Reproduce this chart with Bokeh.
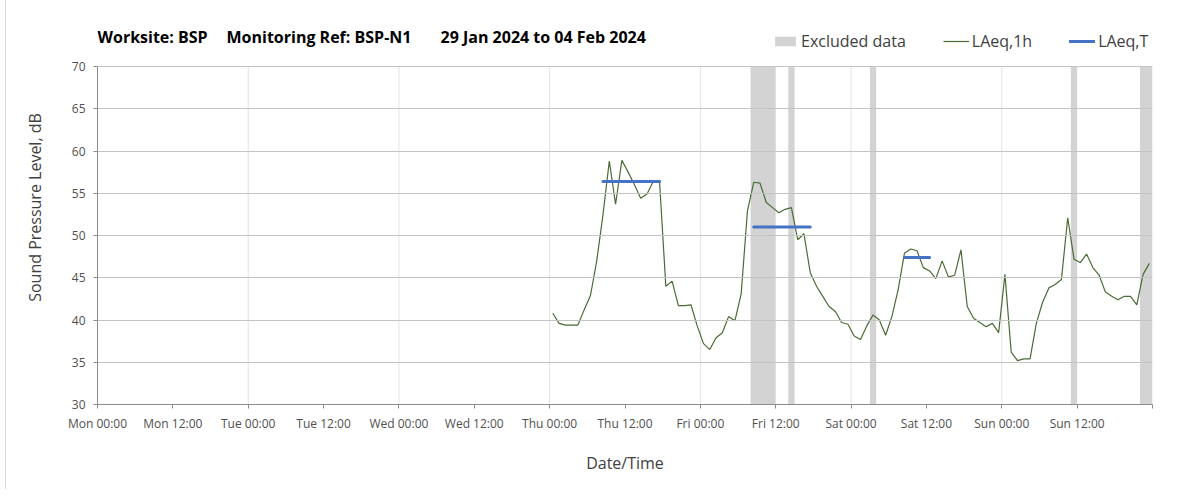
import pandas as pd
from bokeh.plotting import figure
from bokeh.models import Range1d, FixedTicker, Label, Legend, LegendItem, ColumnDataSource
from bokeh.embed import file_html
from bokeh.resources import INLINE

# ---------------- data ----------------
week_start = "2024-01-29 00:00"
week_end = "2024-02-05 00:00"
first_reading = "2024-02-01 00:30"

laeq_1h = [
    40.8, 39.6, 39.4, 39.4, 39.4, 41.2, 42.9, 47.0, 52.5, 58.8, 53.7, 58.9,
    57.5, 56.0, 54.4, 54.9, 56.4, 56.4, 44.0, 44.6, 41.7, 41.7, 41.8, 39.3,
    37.2, 36.5, 37.9, 38.5, 40.4, 39.9, 43.1, 52.9, 56.3, 56.2, 53.9, 53.3,
    52.7, 53.1, 53.3, 49.5, 50.2, 45.6, 44.0, 42.8, 41.6, 41.0, 39.7, 39.5,
    38.1, 37.7, 39.3, 40.6, 40.0, 38.2, 40.4, 43.6, 47.9, 48.4, 48.2, 46.2,
    45.8, 44.9, 47.0, 45.1, 45.3, 48.3, 41.6, 40.2, 39.7, 39.2, 39.6, 38.5,
    45.4, 36.2, 35.2, 35.4, 35.4, 39.6, 42.1, 43.8, 44.2, 44.8, 52.1, 47.2,
    46.8, 47.8, 46.2, 45.3, 43.3, 42.8, 42.4, 42.8, 42.8, 41.8, 45.4, 46.7,
]

excluded_start = ["2024-02-02 08:00", "2024-02-02 14:00", "2024-02-03 03:00",
                  "2024-02-04 11:00", "2024-02-04 22:00"]
excluded_end = ["2024-02-02 12:00", "2024-02-02 15:00", "2024-02-03 04:00",
                "2024-02-04 12:00", "2024-02-05 00:00"]

laeq_t_start = ["2024-02-01 08:30", "2024-02-02 08:30", "2024-02-03 08:30"]
laeq_t_end = ["2024-02-01 17:30", "2024-02-02 17:30", "2024-02-03 12:30"]
laeq_t_value = [56.4, 51.0, 47.4]

x_tick_hours = [0, 12, 24, 36, 48, 60, 72, 84, 96, 108, 120, 132, 144, 156, 168]
x_tick_labels = ["Mon 00:00", "Mon 12:00", "Tue 00:00", "Tue 12:00", "Wed 00:00",
                 "Wed 12:00", "Thu 00:00", "Thu 12:00", "Fri 00:00", "Fri 12:00",
                 "Sat 00:00", "Sat 12:00", "Sun 00:00", "Sun 12:00", ""]
y_ticks = [30, 35, 40, 45, 50, 55, 60, 65, 70]

title_parts = ["Worksite: BSP", "Monitoring Ref: BSP-N1", "29 Jan 2024 to 04 Feb 2024"]

# ---------------- helpers ----------------
t0 = pd.Timestamp(week_start)


def hours(ts):
    return (pd.Timestamp(ts) - t0) / pd.Timedelta(hours=1)


times = pd.date_range(first_reading, periods=len(laeq_1h), freq="h")
x_1h = [hours(t) for t in times]
y_lo, y_hi = y_ticks[0], y_ticks[-1]
x_end = hours(week_end)

src_1h = ColumnDataSource(dict(x=x_1h, y=laeq_1h))
src_ex = ColumnDataSource(dict(left=[hours(s) for s in excluded_start],
                               right=[hours(e) for e in excluded_end]))
src_t = ColumnDataSource(dict(x0=[hours(s) for s in laeq_t_start],
                              x1=[hours(e) for e in laeq_t_end],
                              y=laeq_t_value))
day_lines = x_tick_hours[2:-1:2]
src_vgrid = ColumnDataSource(dict(x=day_lines, y0=[y_lo] * len(day_lines),
                                  y1=[y_hi] * len(day_lines)))

FONT = "Open Sans"

# frame: 10..404 px tall -> upper headroom above 70 holds title & legend
FRAME_TOP, FRAME_BOTTOM = 10, 404
PX_PER_DB = 338 / 40.0
y_top = y_hi + (66 - FRAME_TOP) / PX_PER_DB

p = figure(width=1189, height=489, output_backend="svg", toolbar_location=None,
           x_range=Range1d(0, x_end), y_range=Range1d(y_lo, y_top),
           min_border_left=91, min_border_right=43, min_border_top=FRAME_TOP,
           min_border_bottom=489 - FRAME_BOTTOM, background_fill_color="white",
           border_fill_color="white")
p.styles = {"margin-left": "5px", "border-left": "1px solid #d9d9d9"}
p.outline_line_color = None
p.xgrid.visible = False

# excluded bands
r_ex = p.quad(left="left", right="right", bottom=y_lo, top=y_hi, source=src_ex,
              fill_color="#d3d3d3", line_color=None, level="underlay")

# vertical day grid lines (limited to the axis extent)
p.segment(x0="x", x1="x", y0="y0", y1="y1", source=src_vgrid,
          line_color="#e2e2e2", line_width=1, level="underlay")

# horizontal grid
p.ygrid.ticker = FixedTicker(ticks=y_ticks)
p.ygrid.grid_line_color = "#c4c4c4"
p.ygrid.grid_line_width = 1
p.ygrid.level = "glyph"

# lines
r_1h = p.line("x", "y", source=src_1h, line_color="#4b6b35", line_width=1.2)
r_t = p.segment(x0="x0", y0="y", x1="x1", y1="y", source=src_t,
                line_color="#4472C4", line_width=3, line_cap="round")

# axes
p.xaxis.ticker = FixedTicker(ticks=x_tick_hours)
p.xaxis.major_label_overrides = {h: lab for h, lab in zip(x_tick_hours, x_tick_labels)}
p.yaxis.ticker = FixedTicker(ticks=y_ticks)
p.yaxis.bounds = (y_lo, y_hi)
for ax in (p.xaxis[0], p.yaxis[0]):
    ax.axis_line_color = "#8c8c8c"
    ax.major_tick_line_color = "#8c8c8c"
    ax.major_tick_out = 4
    ax.major_tick_in = 0
    ax.minor_tick_line_color = None
    ax.major_label_text_font = FONT
    ax.major_label_text_font_size = "12px"
    ax.major_label_text_color = "#505050"
    ax.axis_label_text_font = FONT
    ax.axis_label_text_font_size = "16px"
    ax.axis_label_text_font_style = "normal"
    ax.axis_label_text_color = "#404040"

p.xaxis.axis_label = "Date/Time"
p.xaxis.major_label_standoff = 6
p.xaxis.axis_label_standoff = 17
p.yaxis.axis_label = "Sound Pressure Level, dB"
p.yaxis.major_label_standoff = 8
p.yaxis.axis_label_standoff = 23

# title pieces (screen units relative to frame bottom-left)
title_x = [0, 129, 343]
for txt, tx in zip(title_parts, title_x):
    p.add_layout(Label(x=tx, y=FRAME_BOTTOM - 36, x_units="screen", y_units="screen",
                       text=txt, text_font=FONT, text_font_size="16px",
                       text_font_style="bold", text_color="#000000",
                       text_baseline="middle"))

legend = Legend(items=[LegendItem(label="Excluded data", renderers=[r_ex]),
                       LegendItem(label="LAeq,1h", renderers=[r_1h]),
                       LegendItem(label="LAeq,T", renderers=[r_t])],
                orientation="horizontal", location=(675, FRAME_BOTTOM - 52),
                glyph_width=26, glyph_height=12, label_standoff=3, spacing=37,
                padding=0, margin=0, border_line_color=None,
                background_fill_alpha=0, label_text_font=FONT,
                label_text_font_size="16px", label_text_color="#404040",
                label_height=20)
p.add_layout(legend)

open("out.html", "w").write(file_html(p, INLINE))
